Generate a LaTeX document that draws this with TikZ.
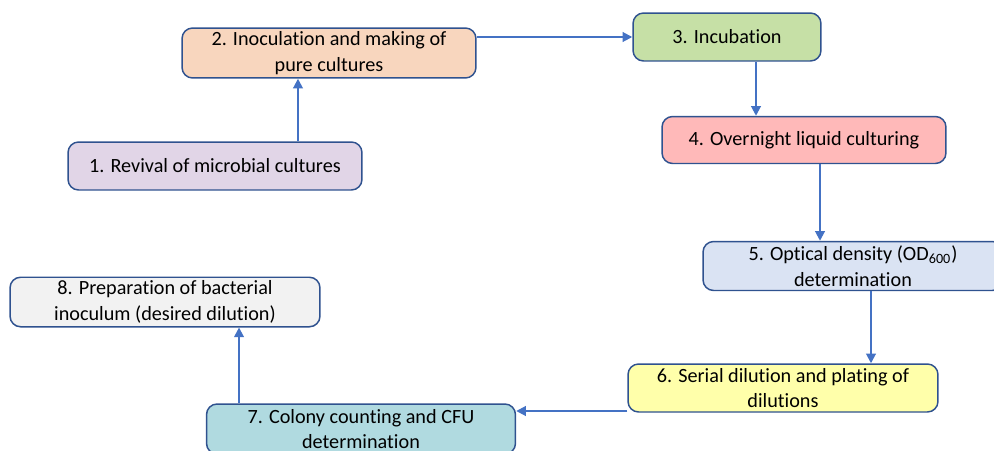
\documentclass[tikz,border=0pt]{standalone}
\usepackage{fontspec}
\setmainfont{Carlito}[Ligatures=CommonOff]
\usetikzlibrary{arrows.meta}

\definecolor{boxline}{RGB}{47,82,143}
\definecolor{flowline}{RGB}{68,114,196}
\definecolor{revival}{RGB}{225,213,231}
\definecolor{inocul}{RGB}{248,214,190}
\definecolor{incub}{RGB}{198,224,166}
\definecolor{overnight}{RGB}{255,185,185}
\definecolor{optical}{RGB}{218,227,243}
\definecolor{serial}{RGB}{255,255,170}
\definecolor{colony}{RGB}{176,218,224}
\definecolor{prep}{RGB}{242,242,242}

\tikzset{
  stepbox/.style={draw=boxline, line width=0.85pt, rounded corners=6pt,
    align=center, inner sep=2pt, font=\fontsize{11.5}{14.6}\selectfont},
  flow/.style={draw=flowline, line width=1.1pt,
    -{Triangle[length=5.5pt,width=5.5pt]}}
}

\begin{document}
\begin{tikzpicture}[x=0.02cm, y=-0.02cm]
        \useasboundingbox (0,0) rectangle (994,450);

        % Steps
        \node[stepbox, fill=revival, minimum width=5.88cm, minimum height=0.96cm] (n1) at (215,166) {1. Revival of microbial cultures};
        \node[stepbox, fill=inocul, minimum width=5.88cm, minimum height=0.96cm] (n2) at (329,53) {2. Inoculation and making of\\pure cultures};
        \node[stepbox, fill=incub, minimum width=3.76cm, minimum height=0.96cm] (n3) at (727,37) {3. Incubation};
        \node[stepbox, fill=overnight, minimum width=5.68cm, minimum height=0.94cm] (n4) at (804,140) {4. Overnight liquid culturing};
        \node[stepbox, fill=optical, minimum width=6.0cm, minimum height=0.98cm] (n5) at (853,266) {5. Optical density (OD\textsubscript{600})\\determination};
        \node[stepbox, fill=serial, minimum width=6.2cm, minimum height=0.96cm] (n6) at (783,388) {6. Serial dilution and plating of\\dilutions};
        \node[stepbox, fill=colony, minimum width=6.18cm, minimum height=1.0cm] (n7) at (361,429) {7. Colony counting and CFU\\determination};
        \node[stepbox, fill=prep, minimum width=6.2cm, minimum height=0.98cm] (n8) at (165,302) {8. Preparation of bacterial\\inoculum (desired dilution)};

        % Flow
        \draw[flow] ([xshift=1.66cm]n1.north) -- ([xshift=1.66cm]n1.north |- n2.south);
        \draw[flow] (n2.east |- n3.west) -- (n3.west);
        \draw[flow] ([xshift=0.58cm]n3.south) -- ([xshift=0.58cm]n3.south |- n4.north);
        \draw[flow] ([xshift=0.32cm]n4.south) -- ([xshift=0.32cm]n4.south |- n5.north);
        \draw[flow] ([xshift=0.36cm]n5.south) -- ([xshift=0.36cm]n5.south |- n6.north);
        \draw[flow] ([yshift=-0.46cm]n6.west) -- ([yshift=-0.46cm]n6.west -| n7.east);
        \draw[flow] ([xshift=-2.44cm]n7.north) -- ([xshift=-2.44cm]n7.north |- n8.south);
      \end{tikzpicture}
\end{document}
